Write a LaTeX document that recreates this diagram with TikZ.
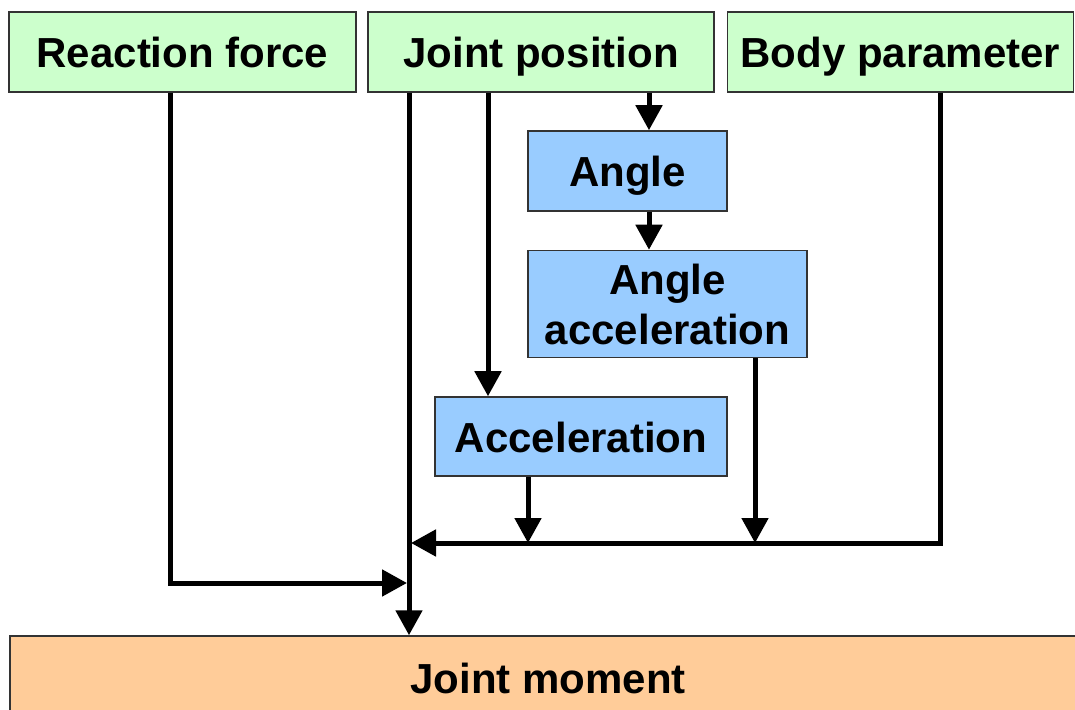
\documentclass[tikz,border=0pt]{standalone}
\usepackage{fontspec}
\setmainfont{Liberation Sans}
\usetikzlibrary{arrows.meta}
\definecolor{boxgreen}{HTML}{CCFFCC}
\definecolor{boxblue}{HTML}{99CCFF}
\definecolor{boxorange}{HTML}{FFCC99}
\tikzset{
  box/.style={draw=black!80, line width=0.75pt, inner sep=0pt, align=center,
    font=\fontsize{21}{25}\selectfont\bfseries},
  one/.style={text height=15.5pt, text depth=0pt},
  gbox/.style={box, one, fill=boxgreen},
  bbox/.style={box, fill=boxblue},
  obox/.style={box, fill=boxorange},
  conn/.style={line width=2.5pt, black, line join=miter},
  arr/.style={conn, -{Triangle[length=12.5pt,width=13pt]}}
}
\begin{document}
\begin{tikzpicture}[x=0.5pt,y=-0.5pt]
\clip (0,0) rectangle (1075,710);
\fill[white] (0,0) rectangle (1075,710);
% nodes
\node[gbox, minimum width=173.5pt, minimum height=40pt] (rf) at (182.5,52) {Reaction force};
\node[gbox, minimum width=173pt, minimum height=40pt] (jp) at (541,52) {Joint position};
\node[gbox, minimum width=173pt, minimum height=40pt] (bp) at (900.5,52) {Body parameter};
\node[bbox, one, minimum width=99.5pt, minimum height=40pt] (an) at (627.5,171) {Angle};
\node[bbox, minimum width=139.5pt, minimum height=53.5pt] (aa) at (667.5,304) {Angle\\acceleration};
\node[bbox, one, minimum width=146pt, minimum height=39.5pt] (ac) at (581,436.5) {Acceleration};
\node[obox, minimum width=535pt, minimum height=44pt] (jm) at (545,680) {};
\node[font=\fontsize{21}{25}\selectfont\bfseries, one, inner sep=0pt] (jmt) at (548,678) {Joint moment};
% helper coordinates
\coordinate (c1) at (409,0);
\coordinate (c2) at (488,0);
\coordinate (c3) at (649,0);
\coordinate (c4) at (528,0);
\coordinate (c5) at (755,0);
\coordinate (c6) at (940,0);
\coordinate (c7) at (170,0);
\coordinate (h1) at (0,543);
\coordinate (h2) at (0,583);
% connectors
\draw[arr] (jp.south -| c1) -- (jm.north -| c1);
\draw[arr] (rf.south -| c7) |- ([xshift=-1pt]c1 |- h2);
\draw[arr] (jp.south -| c2) -- (ac.north -| c2);
\draw[arr] (jp.south -| c3) -- (an.north -| c3);
\draw[arr] (an.south -| c3) -- (aa.north -| c3);
\draw[arr] (ac.south -| c4) -- (c4 |- h1);
\draw[arr] (aa.south -| c5) -- (c5 |- h1);
\draw[arr] (bp.south -| c6) |- ([xshift=1pt]c1 |- h1);
\end{tikzpicture}
\end{document}
